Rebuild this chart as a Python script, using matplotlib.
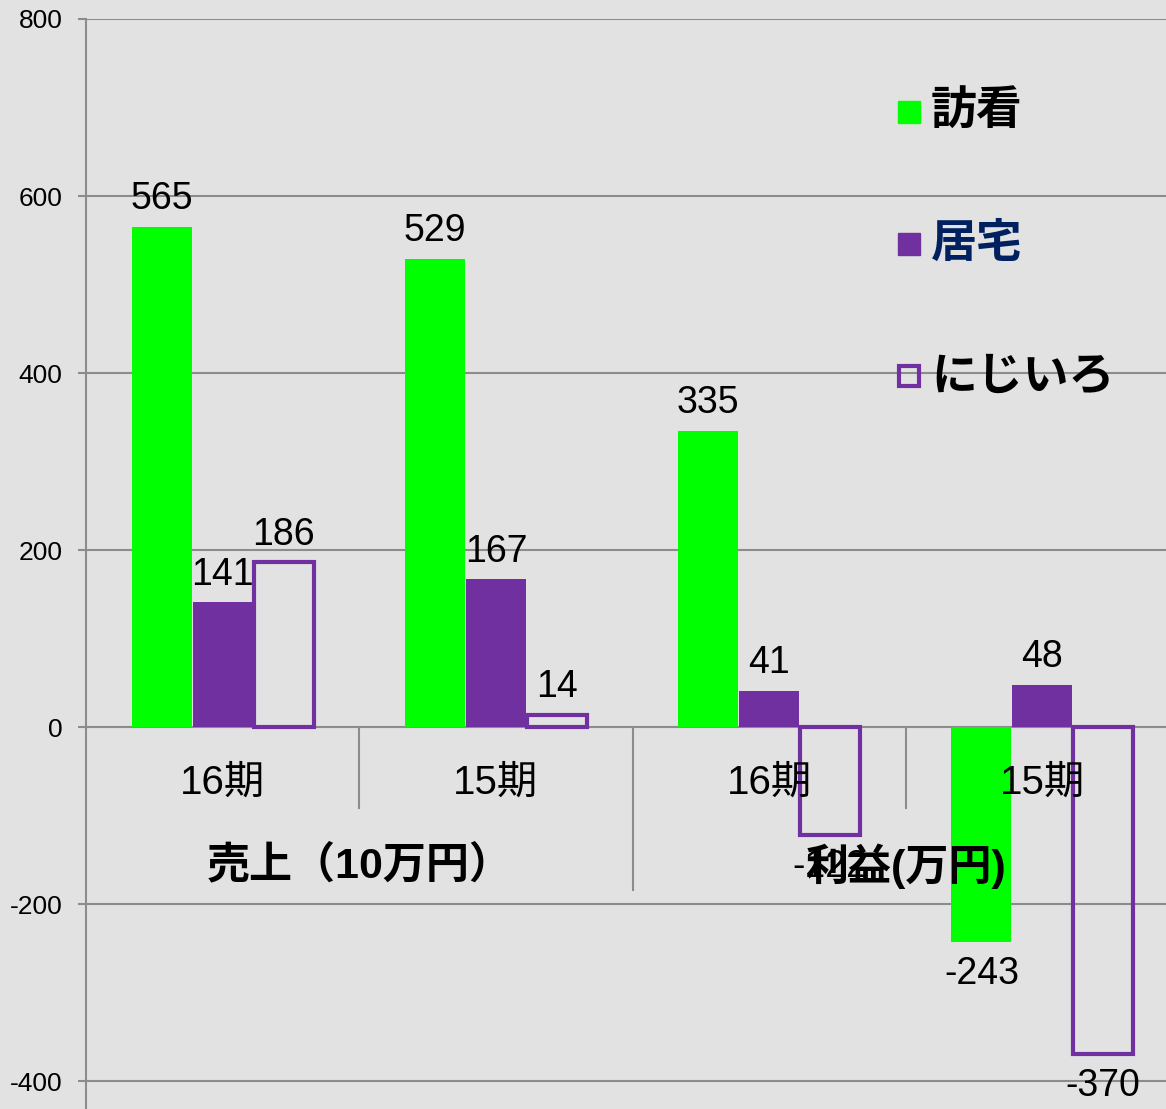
import matplotlib.pyplot as plt
from matplotlib.lines import Line2D

plt.rcParams["font.family"] = ["Liberation Sans", "Noto Sans CJK JP"]
plt.rcParams["axes.unicode_minus"] = False

# chart data
periods = ["16期", "15期", "16期", "15期"]
groups = ["売上（10万円）", "利益(万円)"]
series = ["訪看", "居宅", "にじいろ"]
houkan = [565, 529, 335, -243]
kyotaku = [141, 167, 41, 48]
nijiiro = [186, 14, -122, -370]

GREEN = "#00FF00"
PURPLE = "#7030A0"
GRID = "#8c8c8c"
BG = "#e2e2e2"

fig = plt.figure(figsize=(11.66, 11.09), dpi=100, facecolor=BG)
ax = fig.add_axes([86 / 1166, 0, (1179 - 86) / 1166, 1 - 19 / 1109])
ax.patch.set_alpha(0)

x = list(range(len(periods)))
w = 0.22
off = 0.223
b1 = ax.bar([i - off for i in x], houkan, w, color=GREEN, zorder=3)
b2 = ax.bar(x, kyotaku, w, color=PURPLE, zorder=3)
b3 = ax.bar([i + off for i in x], nijiiro, w, facecolor="none",
            edgecolor=PURPLE, linewidth=3, zorder=3)

ax.set_xlim(-0.5, 3.5)
ax.set_ylim(-431.6, 800)
ax.set_yticks([-400, -200, 0, 200, 400, 600, 800])
ax.set_xticks([])
ax.yaxis.grid(True, color=GRID, lw=1.5, zorder=1)
ax.tick_params(axis="y", length=6, width=1.5, color=GRID, pad=11, labelsize=19)
for s in ["top", "right", "bottom"]:
    ax.spines[s].set_visible(False)
ax.spines["left"].set_color(GRID)
ax.spines["left"].set_linewidth(1.5)

# data labels
for bars, vals in [(b1, houkan), (b2, kyotaku), (b3, nijiiro)]:
    for bar, v in zip(bars, vals):
        cx = bar.get_x() + bar.get_width() / 2
        if v >= 0:
            ax.annotate(str(v), (cx, v), xytext=(0, 7), textcoords="offset points",
                        ha="center", va="bottom", fontsize=27, zorder=5)
        else:
            ax.annotate(str(v), (cx, v), xytext=(0, -10), textcoords="offset points",
                        ha="center", va="top", fontsize=27, zorder=5)

# category axis labels and separators
for i, p in enumerate(periods):
    ax.text(i, -63, p, ha="center", va="center", fontsize=29, zorder=4)
for gx, g in zip([0.5, 2.5], groups):
    ax.text(gx, -157, g, ha="center", va="center", fontsize=31,
            fontweight="bold", zorder=4)
for sx in [0.5, 2.5]:
    ax.plot([sx, sx], [0, -91.5], color=GRID, lw=1.5, zorder=2)
ax.plot([1.5, 1.5], [0, -184], color=GRID, lw=1.5, zorder=2)

# legend drawn at fixed spots
leg_y = [112, 244, 376]
leg_colors = ["black", "#002060", "black"]
handles = [
    Line2D([0], [0], marker="s", ls="none", ms=16, mfc=GREEN, mec=GREEN),
    Line2D([0], [0], marker="s", ls="none", ms=16, mfc=PURPLE, mec=PURPLE),
    Line2D([0], [0], marker="s", ls="none", ms=14, mfc="none", mec=PURPLE, mew=3),
]
for h, lab, yy, c in zip(handles, series, leg_y, leg_colors):
    fig.lines.append(Line2D([909 / 1166], [1 - yy / 1109], marker=h.get_marker(),
                            ls="none", ms=h.get_markersize(), mfc=h.get_markerfacecolor(),
                            mec=h.get_markeredgecolor(), mew=h.get_markeredgewidth(),
                            transform=fig.transFigure, zorder=6))
    fig.text(931 / 1166, 1 - yy / 1109, lab, ha="left", va="center", fontsize=33,
             fontweight="bold", color=c, family=["Noto Sans CJK JP"])

fig.savefig("out.png", dpi=100, facecolor=BG)
